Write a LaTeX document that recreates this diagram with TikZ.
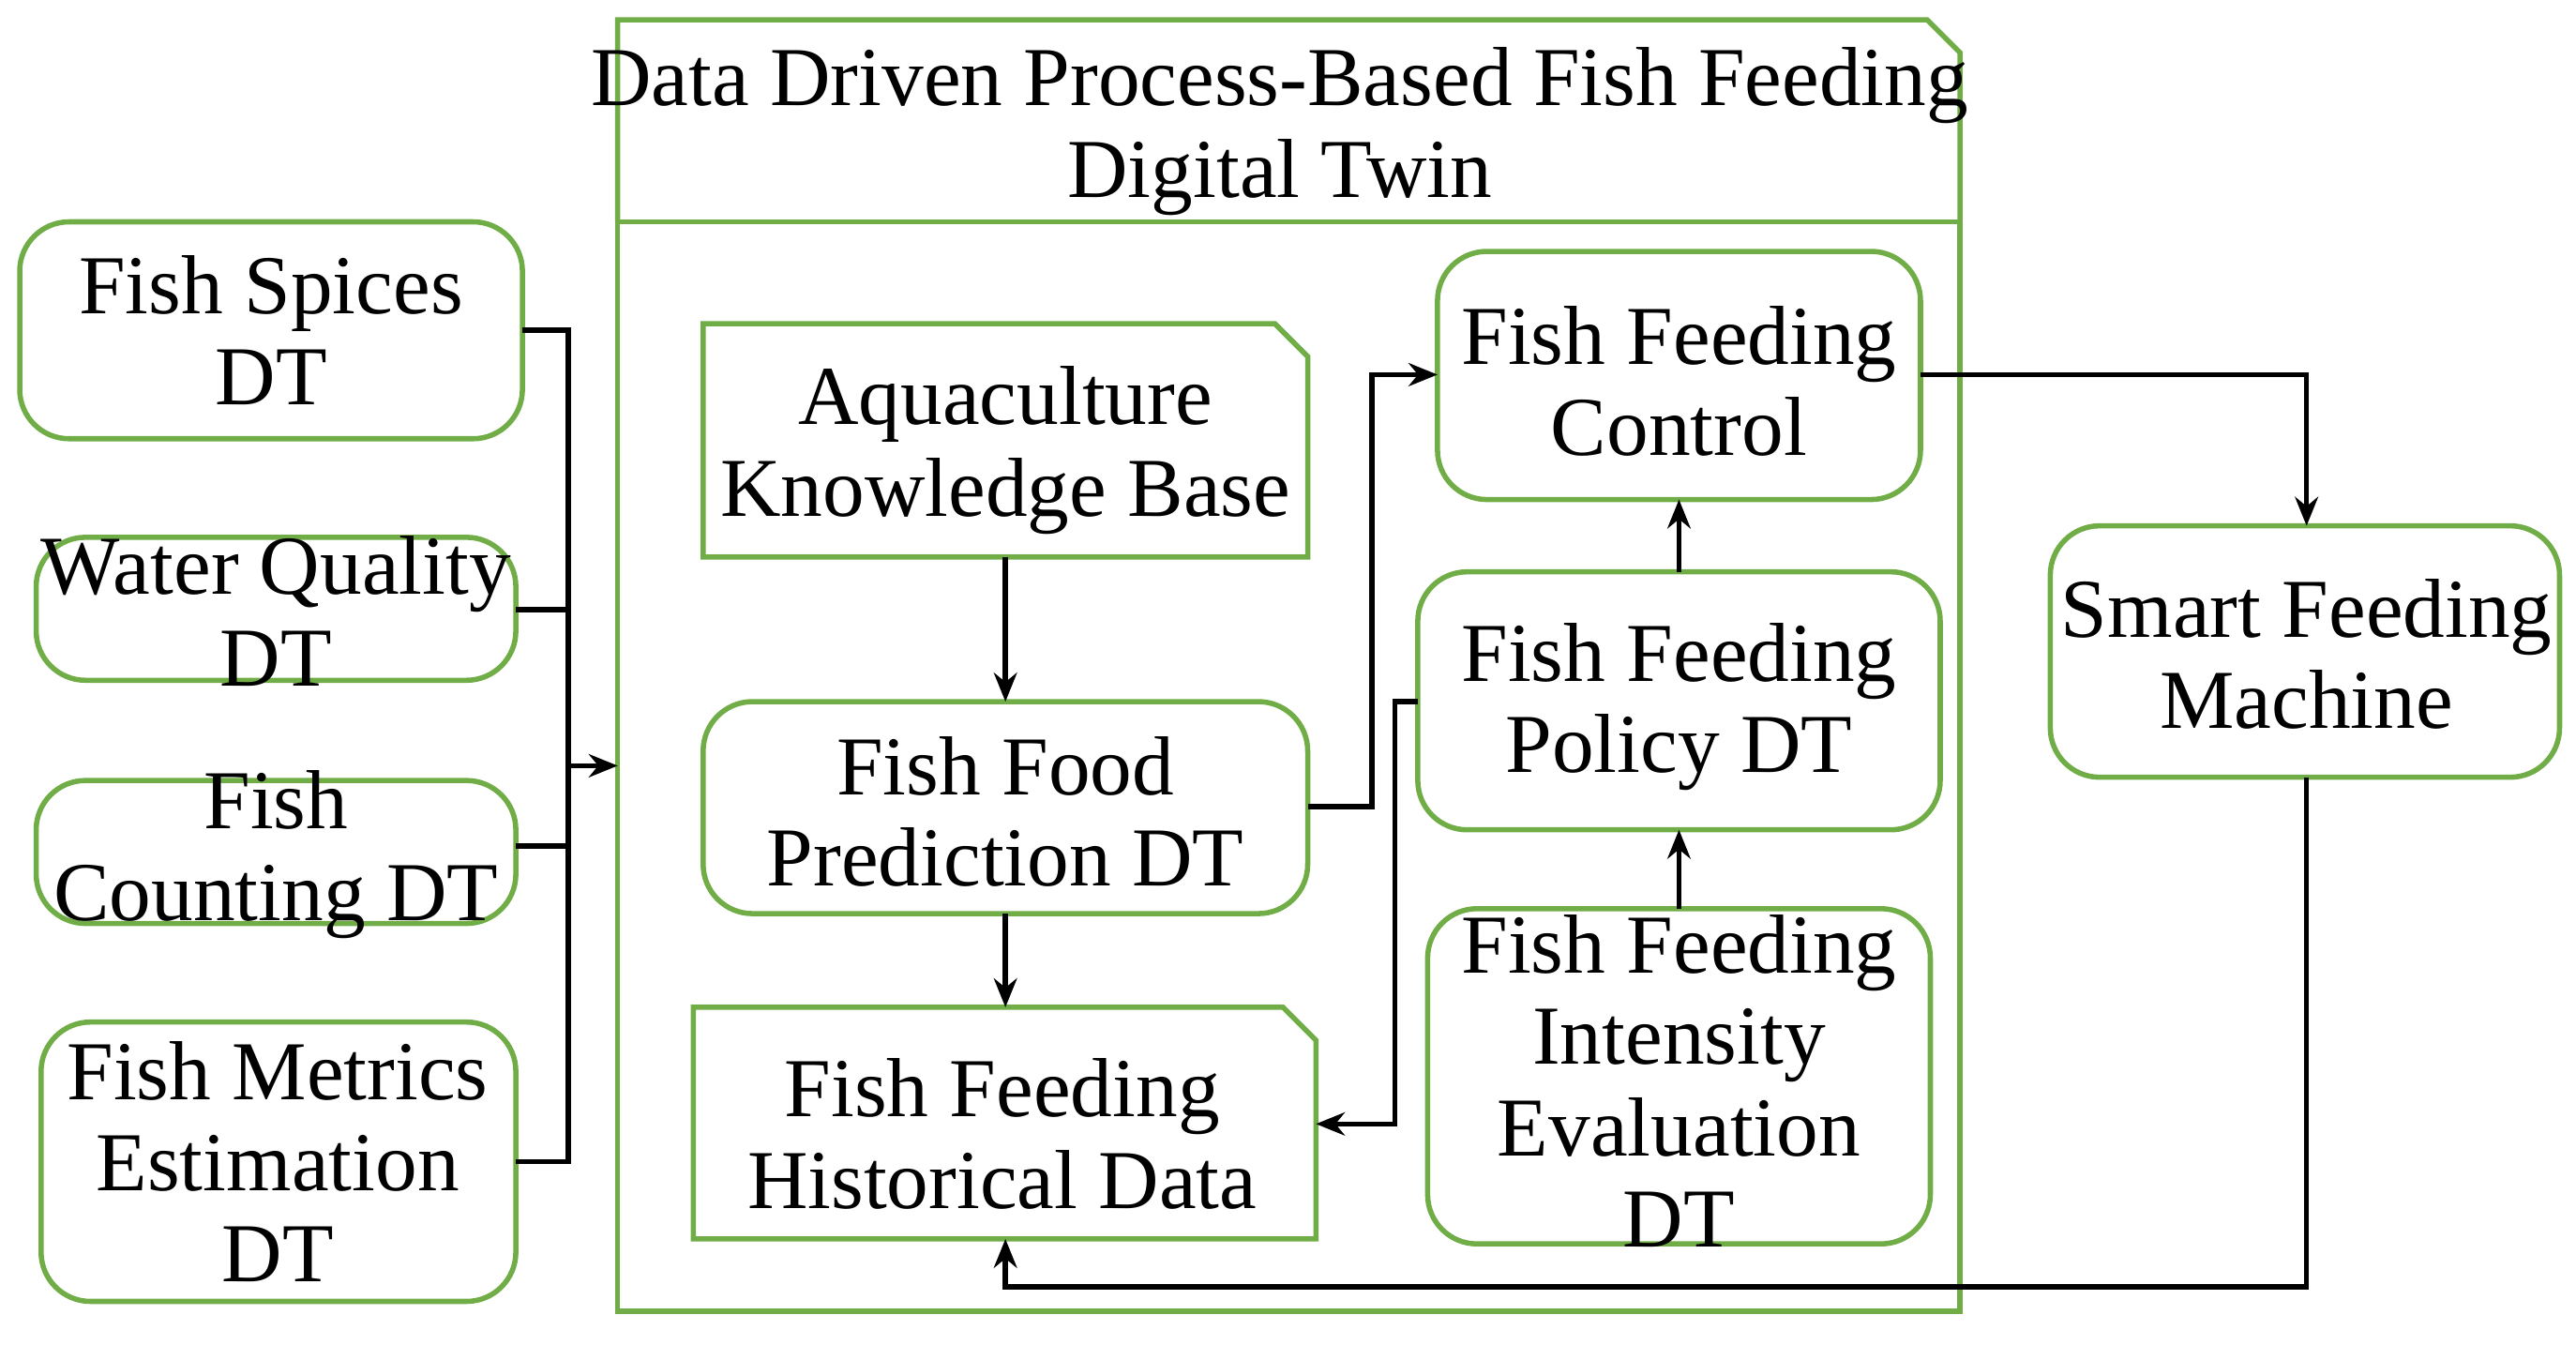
\documentclass[tikz,border=0pt]{standalone}
\usepackage{fontspec}
\setmainfont{Liberation Serif}
\usetikzlibrary{shapes.misc,arrows.meta}
\definecolor{gr}{HTML}{70AD47}
\begin{document}
\begin{tikzpicture}[x=0.01cm,y=-0.01cm,
  every node/.style={font=\fontsize{14.5}{15.8}\selectfont,align=center,inner sep=0pt},
  rb/.style={draw=gr,line width=0.9pt,rounded corners=0.3cm},
  cb/.style={draw=gr,line width=0.9pt,chamfered rectangle,chamfered rectangle corners=north east,chamfered rectangle xsep=0.2cm,chamfered rectangle ysep=0.2cm},
  ln/.style={line width=0.9pt},
  ar/.style={ln,-{Stealth[length=5pt,width=4pt]}}]
\useasboundingbox (0,0) rectangle (1568,818);
% outer
\draw[gr,line width=0.9pt] (376,135) rectangle (1193,798);
\draw[gr,line width=0.9pt] (376,135) -- (376,12) -- (1173,12) -- (1193,32) -- (1193,135);
\node (title) at (779,80) {Data Driven Process-Based Fish Feeding\\Digital Twin};
% left
\draw[rb] (12,135) rectangle (318,267); \node (fs) at (165,201) {Fish Spices\\DT};
\draw[rb] (22,327) rectangle (314,414); \node (wq) at (168,372) {Water Quality\\DT};
\draw[rb] (22,475) rectangle (314,562); \node (fc) at (168,520) {Fish\\Counting DT};
\draw[rb] (25,622) rectangle (314,792); \node (fm) at (169,707) {Fish Metrics\\Estimation\\DT};
\coordinate (bus) at (346,466); \coordinate (in) at (376,466);
\draw[ln] (318,201) -- (346,201) -- (346,707) -- (314,707);
\draw[ln] (314,371) -- (346,371); \draw[ln] (314,515) -- (346,515);
\draw[ar] (bus) -- (in);
% inner
\draw[gr,line width=0.9pt] (428,197) -- (776,197) -- (796,217) -- (796,339) -- (428,339) -- cycle;
\node (akb) at (612,274) {Aquaculture\\Knowledge Base};
\draw[rb] (428,427) rectangle (796,556); \node (ffp) at (612,494) {Fish Food\\Prediction DT};
\draw[gr,line width=0.9pt] (422,613) -- (781,613) -- (801,633) -- (801,754) -- (422,754) -- cycle;
\node (ffh) at (610,690) {Fish Feeding\\Historical Data};
\draw[rb] (875,153) rectangle (1169,304); \node (ctl) at (1022,232) {Fish Feeding\\Control};
\draw[rb] (863,348) rectangle (1181,505); \node (pol) at (1022,430) {Fish Feeding\\Policy DT};
\draw[rb] (869,553) rectangle (1175,757); \node (int) at (1022,658) {Fish Feeding\\Intensity\\Evaluation\\DT};
\draw[rb] (1248,320) rectangle (1558,473); \node (sm) at (1404,398) {Smart Feeding\\Machine};
% arrows
\draw[ar] (612,339) -- (612,427);
\draw[ar] (612,556) -- (612,613);
\draw[ar] (796,491) -- (835,491) -- (835,228) -- (875,228);
\draw[ar] (863,427) -- (849,427) -- (849,684) -- (801,684);
\draw[ar] (1022,348) -- (1022,304);
\draw[ar] (1022,553) -- (1022,505);
\draw[ar] (1169,228) -- (1404,228) -- (1404,320);
\draw[ar] (1404,473) -- (1404,783) -- (612,783) -- (612,754);
\end{tikzpicture}
\end{document}
